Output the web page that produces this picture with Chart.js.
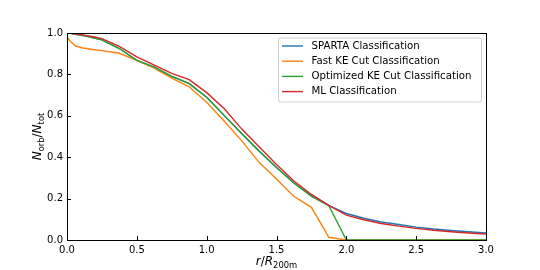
<!DOCTYPE html>
<html>
<head>
<meta charset="utf-8">
<script src="https://cdn.jsdelivr.net/npm/chart.js@4.4.1/dist/chart.umd.min.js"></script>
<style>
  html, body { margin: 0; padding: 0; background: #fff; }
  #wrap { width: 540px; height: 270px; }
</style>
</head>
<body>
<div id="wrap"><canvas id="c" width="540" height="270"></canvas></div>
<script>
// ---- data ----
const radius = [0, 0.03, 0.0625, 0.125, 0.1875, 0.25, 0.375, 0.5, 0.625, 0.75, 0.875, 1.0, 1.125, 1.25, 1.375, 1.5, 1.625, 1.75, 1.875, 2.0, 2.125, 2.25, 2.375, 2.5, 2.625, 2.75, 2.875, 3.0];
const spartaFrac = [1.0, 0.998, 0.994, 0.987, 0.977, 0.967, 0.925, 0.868, 0.835, 0.79, 0.755, 0.69, 0.602, 0.515, 0.43, 0.35, 0.275, 0.212, 0.166, 0.128, 0.105, 0.087, 0.075, 0.062, 0.053, 0.046, 0.040, 0.034];
const fastKeFrac = [0.98, 0.955, 0.937, 0.926, 0.92, 0.915, 0.902, 0.868, 0.83, 0.782, 0.74, 0.665, 0.575, 0.48, 0.375, 0.295, 0.21, 0.158, 0.013, 0.0, 0, 0, 0, 0, 0, 0, 0, 0];
const optKeFrac = [1.0, 0.998, 0.994, 0.987, 0.977, 0.967, 0.925, 0.868, 0.835, 0.79, 0.755, 0.69, 0.602, 0.515, 0.43, 0.35, 0.275, 0.212, 0.166, 0.0, 0, 0, 0, 0, 0, 0, 0, 0];
const mlFrac = [1.0, 0.998, 0.995, 0.99, 0.982, 0.973, 0.935, 0.885, 0.845, 0.805, 0.775, 0.712, 0.635, 0.537, 0.45, 0.365, 0.285, 0.22, 0.167, 0.12, 0.098, 0.08, 0.067, 0.056, 0.047, 0.040, 0.034, 0.029];
const seriesLabels = ["SPARTA Classification", "Fast KE Cut Classification", "Optimized KE Cut Classification", "ML Classification"];
const xTicks = [0, 0.5, 1.0, 1.5, 2.0, 2.5, 3.0];
const yTicks = [0, 0.2, 0.4, 0.6, 0.8, 1.0];

const colors = ["#1f77b4", "#ff7f0e", "#2ca02c", "#d62728"];
const allSeries = [spartaFrac, fastKeFrac, optKeFrac, mlFrac];
const FONT = "DejaVu Sans";

const datasets = allSeries.map((arr, i) => ({
  label: seriesLabels[i],
  data: radius.map((r, j) => ({ x: r, y: arr[j] })),
  borderColor: colors[i],
  backgroundColor: colors[i],
  borderWidth: 1.4,
  pointRadius: 0,
  tension: 0,
  fill: false,
  order: allSeries.length - i   // first series drawn underneath, like matplotlib
}));

function drawRich(ctx, parts, size) {
  let x = 0;
  for (const p of parts) {
    const fs = p.sub ? size * 0.7 : size;
    ctx.font = (p.italic ? "italic " : "") + fs + "px '" + FONT + "'";
    ctx.fillText(p.t, x, p.sub ? size * 0.28 : 0);
    x += ctx.measureText(p.t).width;
  }
  return x;
}
function measureRich(ctx, parts, size) {
  let w = 0;
  for (const p of parts) {
    const fs = p.sub ? size * 0.7 : size;
    ctx.font = (p.italic ? "italic " : "") + fs + "px '" + FONT + "'";
    w += ctx.measureText(p.t).width;
  }
  return w;
}

const decor = {
  id: "decor",
  afterDraw(chart) {
    const ctx = chart.ctx;
    const a = chart.chartArea;
    const xs = chart.scales.x, ys = chart.scales.y;
    ctx.save();
    // spines
    ctx.strokeStyle = "#000";
    ctx.lineWidth = 1;
    ctx.strokeRect(Math.round(a.left) + 0.5, Math.round(a.top) + 0.5, Math.round(a.right - a.left), Math.round(a.bottom - a.top));
    // inward ticks
    ctx.beginPath();
    for (const v of xTicks) {
      const px = Math.round(xs.getPixelForValue(v)) + 0.5;
      ctx.moveTo(px, a.bottom); ctx.lineTo(px, a.bottom - 4);
    }
    for (const v of yTicks) {
      const py = Math.round(ys.getPixelForValue(v)) + 0.5;
      ctx.moveTo(a.left, py); ctx.lineTo(a.left + 4, py);
    }
    ctx.stroke();

    // axis titles
    ctx.fillStyle = "#000";
    ctx.textBaseline = "alphabetic";
    const xt = [{ t: "r", italic: true }, { t: "/", italic: false }, { t: "R", italic: true }, { t: "200m", sub: true }];
    const xw = measureRich(ctx, xt, 12);
    ctx.save();
    ctx.translate((a.left + a.right) / 2 - xw / 2, 264.5);
    drawRich(ctx, xt, 12);
    ctx.restore();

    const yt = [{ t: "N", italic: true }, { t: "orb", sub: true }, { t: "/", italic: false }, { t: "N", italic: true }, { t: "tot", sub: true }];
    const yw = measureRich(ctx, yt, 12);
    ctx.save();
    ctx.translate(41, (a.top + a.bottom) / 2 + yw / 2);
    ctx.rotate(-Math.PI / 2);
    drawRich(ctx, yt, 12);
    ctx.restore();

    // legend
    const lx = 278, ly = 37.5, lw = 203, lh = 64;
    ctx.fillStyle = "rgba(255,255,255,0.85)";
    ctx.strokeStyle = "#d0d0d0";
    ctx.lineWidth = 1;
    ctx.beginPath();
    ctx.roundRect(lx + 0.5, ly + 0.5, lw, lh, 2);
    ctx.fill(); ctx.stroke();
    ctx.font = "10.2px '" + FONT + "'";
    ctx.textBaseline = "middle";
    seriesLabels.forEach((lab, i) => {
      const yy = 46 + i * 15.2;
      ctx.strokeStyle = colors[i];
      ctx.lineWidth = 1.4;
      ctx.beginPath();
      ctx.moveTo(282, yy); ctx.lineTo(303, yy);
      ctx.stroke();
      ctx.fillStyle = "#000";
      ctx.fillText(lab, 311.5, yy);
    });
    ctx.restore();
  }
};

new Chart(document.getElementById("c"), {
  type: "line",
  data: { datasets },
  options: {
    responsive: false,
    animation: false,
    events: [],
    layout: { padding: { left: 0, right: 54, top: 33, bottom: 0 } },
    plugins: { legend: { display: false }, tooltip: { enabled: false } },
    scales: {
      x: {
        type: "linear", min: 0, max: 3,
        afterBuildTicks: (s) => { s.ticks = xTicks.map(v => ({ value: v })); },
        afterFit: (s) => { s.height = 30; },
        grid: { display: false, drawTicks: false },
        border: { display: false },
        ticks: { padding: 4, color: "#000", font: { family: FONT, size: 10 }, callback: (v) => Number(v).toFixed(1), maxRotation: 0 }
      },
      y: {
        type: "linear", min: 0, max: 1,
        afterBuildTicks: (s) => { s.ticks = yTicks.map(v => ({ value: v })); },
        afterFit: (s) => { s.width = 67; },
        grid: { display: false, drawTicks: false },
        border: { display: false },
        ticks: { padding: 4, color: "#000", font: { family: FONT, size: 10 }, callback: (v) => Number(v).toFixed(1) }
      }
    }
  },
  plugins: [decor]
});
</script>
</body>
</html>
